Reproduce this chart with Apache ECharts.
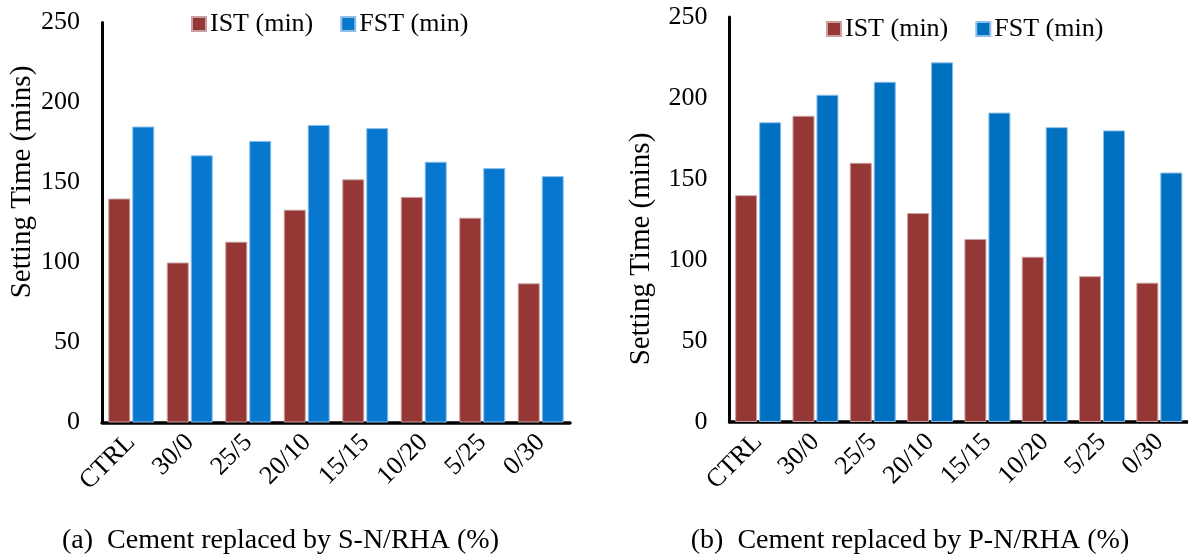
<!DOCTYPE html>
<html>
<head>
<meta charset="utf-8">
<script src="https://cdn.jsdelivr.net/npm/echarts@6/dist/echarts.min.js"></script>
<style>
html,body{margin:0;padding:0;background:#fff;}
#chart{width:1188px;height:558px;}
</style>
</head>
<body>
<div id="chart"></div>
<script>
const categories = ['CTRL', '30/0', '25/5', '20/10', '15/15', '10/20', '5/25', '0/30'];
const istSN = [140, 100, 113, 133, 152, 141, 128, 87];
const fstSN = [185, 167, 176, 186, 184, 163, 159, 154];
const istPN = [140, 189, 160, 129, 113, 102, 90, 86];
const fstPN = [185, 202, 210, 222, 191, 182, 180, 154];
const seriesNames = ['IST (min)', 'FST (min)'];
const yTitle = 'Setting Time (mins)';
const captionA = '(a)  Cement replaced by S-N/RHA (%)';
const captionB = '(b)  Cement replaced by P-N/RHA (%)';

const FONT = '"Liberation Serif", "Times New Roman", serif';
const RED = '#953735';
const BLUE_A = '#0878CF';
const BLUE_B = '#0070C0';

const chart = echarts.init(document.getElementById('chart'), null, {renderer: 'canvas'});

function xAxis(gi) {
  return {
    type: 'category', gridIndex: gi, data: categories,
    axisLine: {lineStyle: {color: '#000', width: 3.5}},
    axisTick: {show: false},
    axisLabel: {interval: 0, rotate: 45, margin: 16, color: '#000', fontFamily: FONT, fontSize: 26}
  };
}
function yAxis(gi) {
  return {
    type: 'value', gridIndex: gi, min: 0, max: 250, interval: 50,
    axisLine: {show: true, lineStyle: {color: '#000', width: 3}},
    axisTick: {show: false},
    splitLine: {show: false},
    axisLabel: {margin: 22, color: '#000', fontFamily: FONT, fontSize: 26}
  };
}
function bar(name, gi, data, color, border) {
  return {
    name: name, type: 'bar', xAxisIndex: gi, yAxisIndex: gi, data: data,
    barWidth: 22, barGap: '9%',
    itemStyle: {color: color, borderColor: border, borderWidth: 1},
    emphasis: {disabled: true}
  };
}
function legend(left, top, blue) {
  return {
    left: left, top: top, icon: 'rect', itemWidth: 14, itemHeight: 14, itemGap: 27,
    textStyle: {fontFamily: FONT, fontSize: 26, color: '#000', padding: [0, 0, 0, -1]},
    data: [
      {name: seriesNames[0], itemStyle: {color: RED}},
      {name: seriesNames[1], itemStyle: {color: blue}}
    ],
    selectedMode: false
  };
}

const option = {
  animation: false,
  backgroundColor: '#fff',
  grid: [
    {left: 102, top: 22.5, width: 468, height: 400},
    {left: 729.5, top: 17, width: 460, height: 405}
  ],
  xAxis: [xAxis(0), xAxis(1)],
  yAxis: [yAxis(0), yAxis(1)],
  legend: [legend(186, 6, BLUE_A), legend(821, 11, BLUE_B)],
  series: [
    bar(seriesNames[0], 0, istSN, RED, '#c9a09f'),
    bar(seriesNames[1], 0, fstSN, BLUE_A, '#8cc0ea'),
    bar(seriesNames[0], 1, istPN, RED, '#c9a09f'),
    bar(seriesNames[1], 1, fstPN, BLUE_B, '#8cbde6')
  ],
  graphic: [
    {type: 'text', x: 22.5, y: 182, rotation: Math.PI / 2,
     style: {text: yTitle, font: '29px ' + FONT, fill: '#000', align: 'center', verticalAlign: 'middle'}},
    {type: 'text', x: 641, y: 249, rotation: Math.PI / 2,
     style: {text: yTitle, font: '29px ' + FONT, fill: '#000', align: 'center', verticalAlign: 'middle'}},
    {type: 'text', x: 280.5, y: 541,
     style: {text: captionA, font: '28px ' + FONT, fill: '#000', align: 'center', verticalAlign: 'middle'}},
    {type: 'text', x: 910, y: 541,
     style: {text: captionB, font: '28px ' + FONT, fill: '#000', align: 'center', verticalAlign: 'middle'}}
  ]
};
chart.setOption(option);
</script>
</body>
</html>
